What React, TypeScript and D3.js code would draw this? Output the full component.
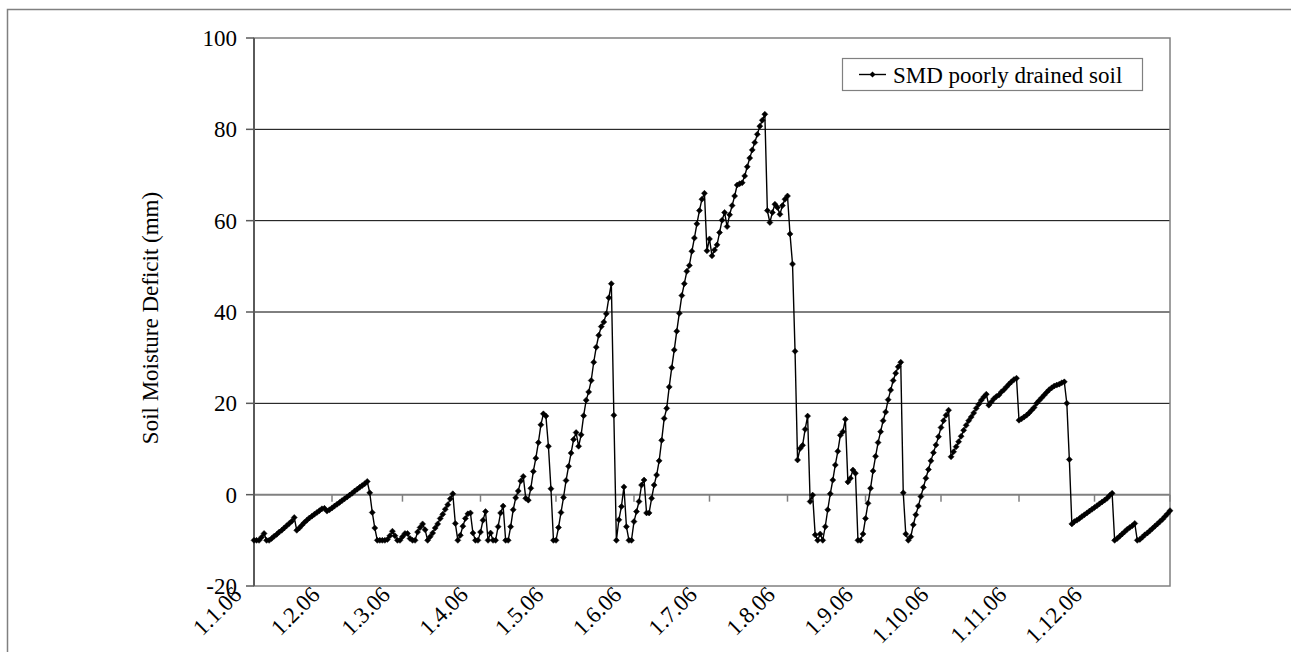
import * as d3 from 'd3'
import React from 'react'

// daily soil moisture deficit (mm), 2006
const smdJan = [-10, -10, -10, -9.3, -8.5, -10, -10, -9.6, -9.1, -8.7, -8.2, -7.8, -7.3, -6.8, -6.3, -5.8, -5.0, -7.8, -7.3, -6.7, -6.1, -5.6, -5.1, -4.7, -4.3, -3.9, -3.5, -3.1, -3.0, -3.6, -3.3]
const smdFeb = [-2.9, -2.5, -2.1, -1.7, -1.3, -0.9, -0.5, -0.1, 0.3, 0.8, 1.2, 1.6, 2.0, 2.4, 2.9, 0.4, -3.9, -7.3, -10, -10, -10, -10, -9.8, -9.0, -8.0, -9.0, -10, -10]
const smdMar = [-9.2, -8.5, -8.5, -9.6, -10, -10, -8.2, -7.2, -6.4, -7.7, -10, -9.2, -8.4, -7.3, -6.4, -5.2, -4.3, -3.2, -2.2, -0.9, 0.2, -6.3, -10, -8.9, -6.9, -5.2, -4.2, -4.0, -8.4, -10, -10]
const smdApr = [-8.2, -5.6, -3.7, -10, -8.4, -10, -10, -7.0, -4.0, -2.5, -10, -10, -7.0, -3.3, -0.7, 0.8, 3.0, 4.0, -0.8, -1.2, 1.4, 5.1, 8.0, 11.4, 15.3, 17.7, 17.2, 10.6, 1.3, -10]
const smdMay = [-10, -7.2, -3.9, -0.6, 3.1, 6.2, 9.1, 12.1, 13.6, 10.6, 13.1, 17.3, 20.7, 22.5, 25.0, 29.0, 32.3, 34.9, 36.8, 37.8, 39.6, 43.1, 46.2, 17.4, -10, -5.5, -2.6, 1.7, -7.0, -10, -10]
const smdJun = [-5.9, -3.7, -1.5, 2.1, 3.2, -4.0, -4.0, -0.8, 2.1, 4.3, 7.4, 11.9, 16.7, 18.9, 23.6, 27.8, 31.7, 35.8, 39.7, 43.6, 46.2, 48.9, 50.2, 53.3, 56.2, 59.3, 62.2, 64.7, 66.0, 53.4]
const smdJul = [56.0, 52.3, 53.6, 54.7, 57.4, 60.1, 61.8, 58.7, 61.3, 63.3, 65.4, 67.8, 68.1, 68.3, 69.8, 71.8, 73.7, 75.5, 77.1, 78.9, 80.7, 82.0, 83.3, 62.2, 59.6, 61.8, 63.6, 62.9, 61.4, 63.3, 64.7]
const smdAug = [65.4, 57.1, 50.5, 31.4, 7.6, 10.1, 10.8, 14.3, 17.2, -1.5, -0.1, -8.8, -10, -8.6, -10, -7.0, -3.3, 0.2, 3.2, 6.5, 9.5, 13.0, 13.8, 16.5, 2.8, 3.6, 5.4, 4.7, -10, -10, -8.6]
const smdSep = [-5.2, -1.9, 1.4, 5.2, 8.4, 11.4, 13.8, 16.2, 18.1, 20.8, 22.9, 25.0, 26.6, 28.0, 29.0, 0.4, -8.6, -10, -9.2, -6.6, -4.4, -2.5, -0.4, 1.6, 3.6, 5.5, 7.4, 9.2, 10.9, 12.7]
const smdOct = [14.7, 16.2, 17.4, 18.5, 8.3, 9.4, 10.5, 11.6, 12.8, 14.1, 15.2, 16.2, 17.0, 17.9, 18.9, 19.8, 20.7, 21.4, 22.0, 19.6, 20.3, 21.0, 21.5, 21.8, 22.5, 23.0, 23.6, 24.2, 24.7, 25.2, 25.5]
const smdNov = [16.3, 16.6, 17.0, 17.4, 17.9, 18.5, 19.1, 20.0, 20.6, 21.2, 21.8, 22.4, 23.0, 23.4, 23.8, 24.0, 24.2, 24.5, 24.7, 20.0, 7.7, -6.4, -5.9, -5.6, -5.2, -4.8, -4.4, -4.0, -3.6, -3.2]
const smdDec = [-2.8, -2.4, -2.0, -1.6, -1.2, -0.8, -0.2, 0.3, -10, -9.6, -9.1, -8.6, -8.1, -7.6, -7.2, -6.8, -6.3, -10, -9.8, -9.3, -8.8, -8.4, -7.9, -7.4, -6.9, -6.4, -5.9, -5.4, -4.8, -4.2, -3.5]

const monthLabels = ['1.1.06', '1.2.06', '1.3.06', '1.4.06', '1.5.06', '1.6.06', '1.7.06', '1.8.06', '1.9.06', '1.10.06', '1.11.06', '1.12.06']
const yTicks = [-20, 0, 20, 40, 60, 80, 100]
const seriesName = 'SMD poorly drained soil'
const yTitle = 'Soil Moisture Deficit (mm)'

const W = 1291
const H = 652
const left = 254
const right = 1170
const top = 38
const bottom = 586
const font = '"Liberation Serif", "Times New Roman", serif'
const grey = '#808080'
const diamond = 'M0,-3L3,0L0,3L-3,0Z'

export default function App() {
  const values: number[] = [].concat(smdJan, smdFeb, smdMar, smdApr, smdMay, smdJun, smdJul, smdAug, smdSep, smdOct, smdNov, smdDec)
  const start = new Date(Date.UTC(2006, 0, 1))
  const dates = values.map((v, i) => d3.utcDay.offset(start, i))
  const xScale = d3.scaleUtc().domain([dates[0], dates[dates.length - 1]]).range([left, right])
  const yScale = d3.scaleLinear().domain([-20, 100]).range([bottom, top])
  const months = d3.utcMonth.range(start, d3.utcYear.offset(start, 1))
  const y0 = yScale(0)

  const line = d3.line<number>()
    .x((d, i) => xScale(dates[i]))
    .y(d => yScale(d))(values)

  return (
    <div style={{ position: 'absolute', left: 0, top: 0 }}>
      <svg width={W} height={H} viewBox={`0 0 ${W} ${H}`} style={{ display: 'block', background: '#fff' }} fontFamily={font}>
        {/* chart frame, its right and bottom edges fall outside the picture */}
        <rect x={7.5} y={9.5} width={W + 20} height={H + 20} fill="#fff" stroke={grey} strokeWidth={1.5} />

        {/* gridlines */}
        {yTicks.filter(t => t > -20 && t < 100 && t !== 0).map(t => (
          <line key={t} x1={left} x2={right} y1={yScale(t)} y2={yScale(t)} stroke="#000" strokeWidth={1} />
        ))}
        <rect x={left} y={top} width={right - left} height={bottom - top} fill="none" stroke={grey} strokeWidth={1.5} />

        {/* category axis sits on 0 */}
        <line x1={left} x2={right} y1={y0} y2={y0} stroke={grey} strokeWidth={2} />
        {months.concat([dates[dates.length - 1]]).map((m, i) => (
          <line key={i} x1={xScale(m)} x2={xScale(m)} y1={y0} y2={y0 + 7} stroke={grey} strokeWidth={1.5} />
        ))}

        {/* value axis */}
        <line x1={left} x2={left} y1={top} y2={bottom} stroke="#5a5a5a" strokeWidth={2} />
        {yTicks.map(t => (
          <g key={t}>
            <line x1={left - 8} x2={left} y1={yScale(t)} y2={yScale(t)} stroke="#5a5a5a" strokeWidth={1.5} />
            <text x={237} y={yScale(t)} dy="0.35em" textAnchor="end" fontSize={23} fill="#000">{t}</text>
          </g>
        ))}

        {months.map((m, i) => (
          <text key={i} transform={`translate(${xScale(m) - 11},${bottom + 10}) rotate(-45)`} textAnchor="end" fontSize={23} fill="#000">
            {monthLabels[i]}
          </text>
        ))}

        <text transform={`translate(158,318) rotate(-90)`} textAnchor="middle" fontSize={23} fill="#000">{yTitle}</text>

        {/* series */}
        <path d={line} fill="none" stroke="#000" strokeWidth={1.4} />
        {values.map((v, i) => (
          <path key={i} d={diamond} transform={`translate(${xScale(dates[i])},${yScale(v)})`} fill="#000" stroke="#000" strokeWidth={0.5} />
        ))}

        {/* legend */}
        <rect x={842.5} y={58.5} width={300} height={32} fill="#fff" stroke={grey} strokeWidth={1.2} />
        <line x1={859} x2={886} y1={74.5} y2={74.5} stroke="#000" strokeWidth={1.4} />
        <path d={diamond} transform="translate(872.5,74.5)" fill="#000" />
        <text x={893} y={82.5} fontSize={23} fill="#000">{seriesName}</text>
      </svg>
    </div>
  )
}
